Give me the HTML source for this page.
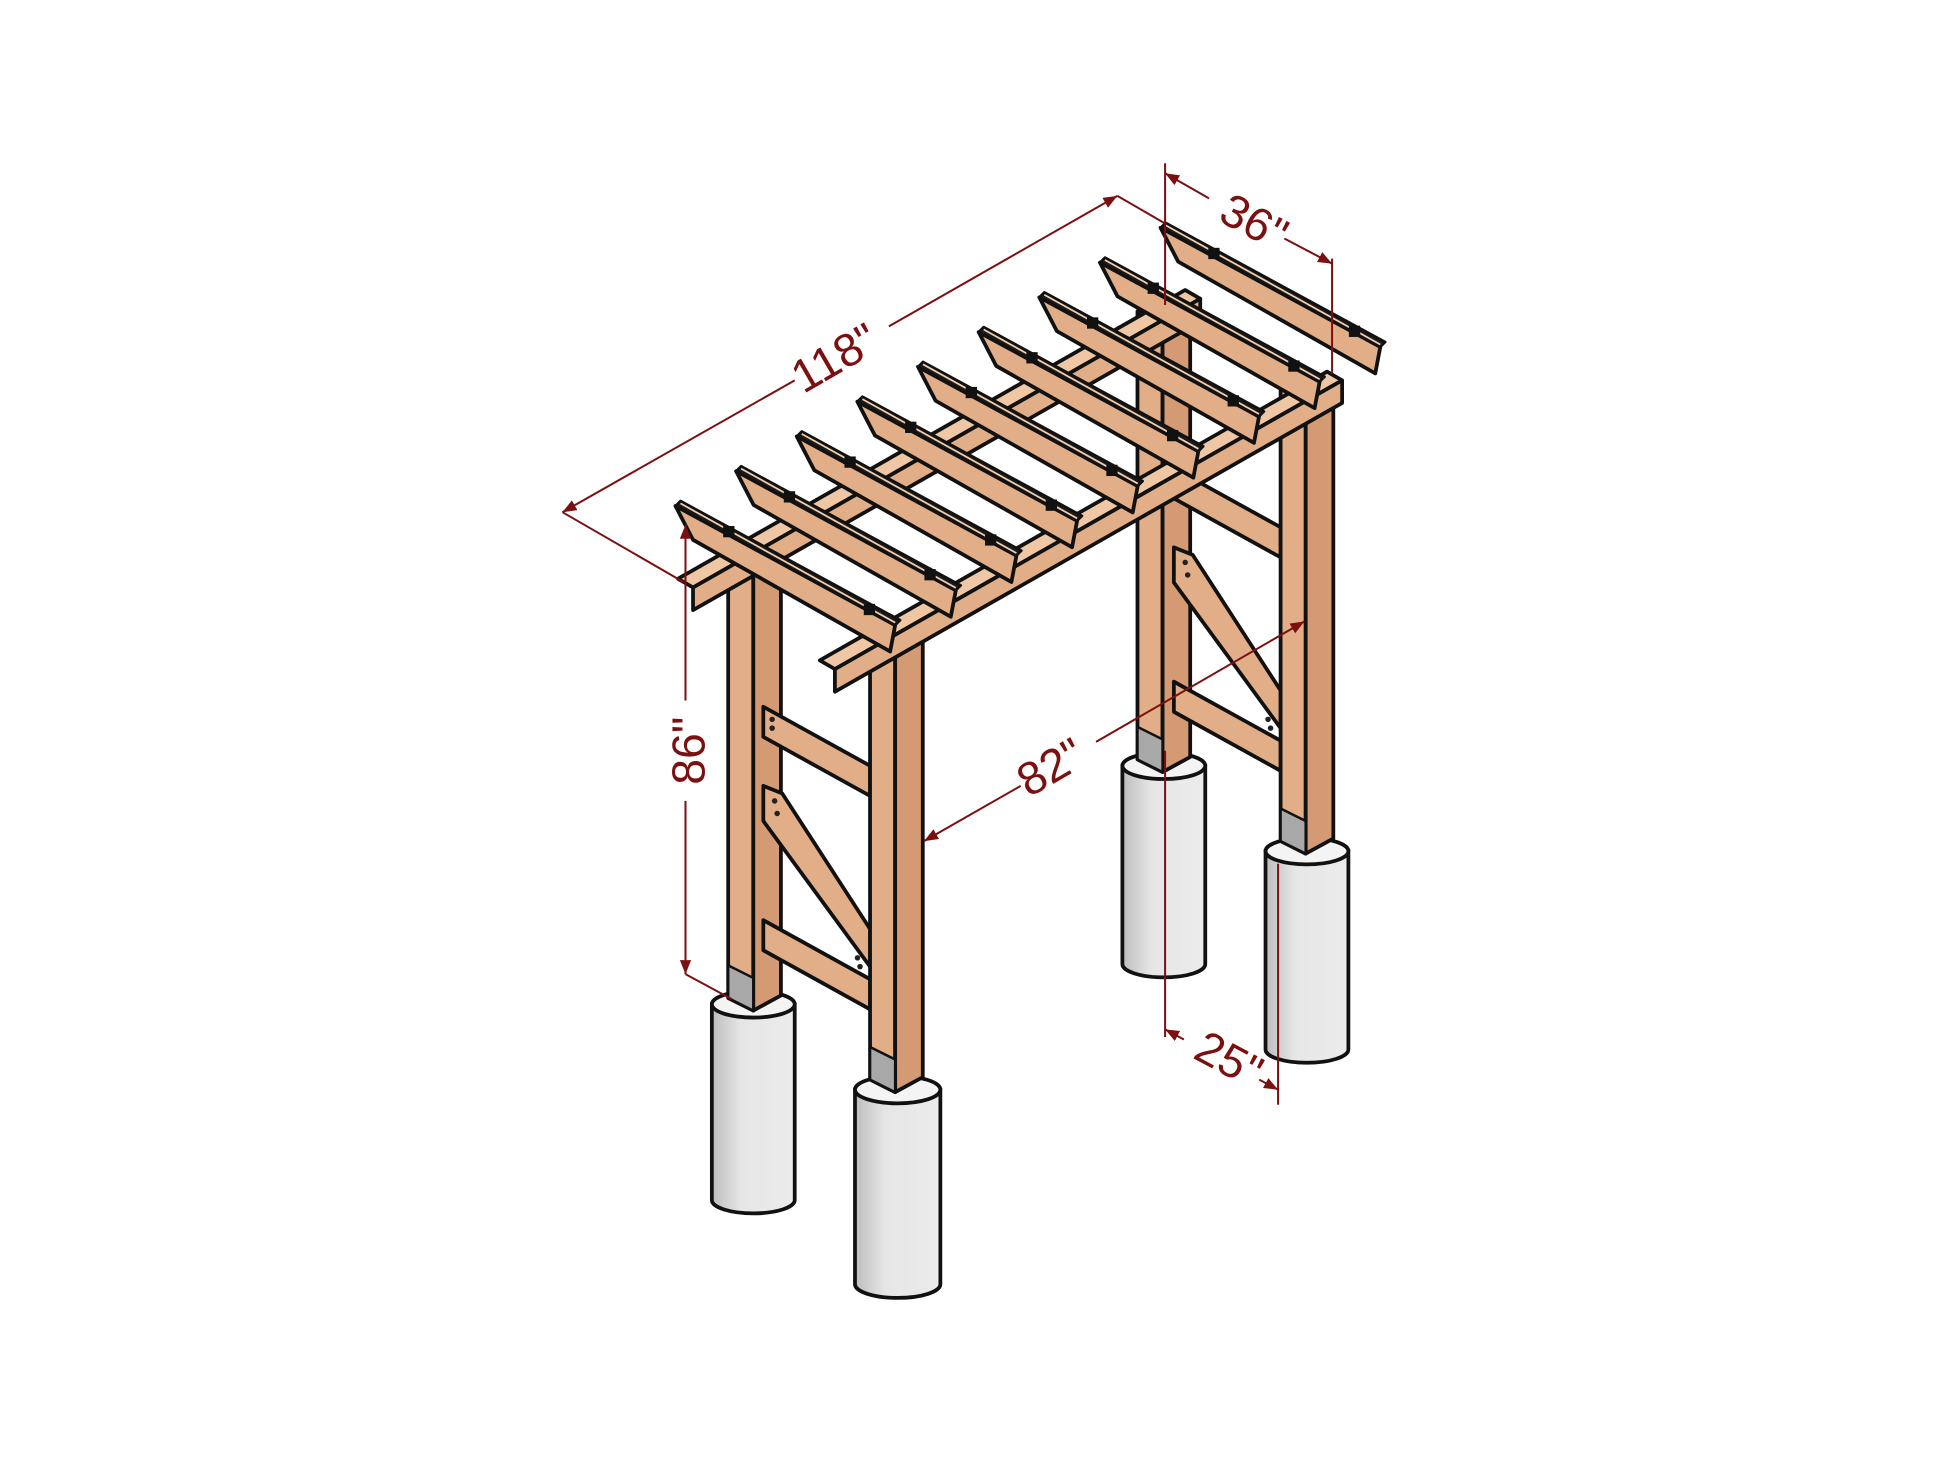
<!DOCTYPE html>
<html><head><meta charset="utf-8"><style>
html,body{margin:0;padding:0;background:#fff}
svg{display:block}
text{font-family:"Liberation Sans",sans-serif;fill:#7a1010}
</style></head><body>
<svg id="s" width="1946" height="1460" viewBox="0 0 1550 1163" preserveAspectRatio="none" xmlns="http://www.w3.org/2000/svg">
<defs>
<linearGradient id="conc" x1="0" x2="1"><stop offset="0" stop-color="#bdbdbd"/><stop offset="0.35" stop-color="#e6e6e6"/><stop offset="1" stop-color="#ececec"/></linearGradient>
<marker id="ar" viewBox="0 0 10 10" refX="10" refY="5" markerWidth="7" markerHeight="7" orient="auto-start-reverse"><path d="M0,1 L10,5 L0,9 z" fill="#7a1010"/></marker>
</defs>
<g transform="translate(-7,-2)">
<g id="g"></g>
<g stroke="#7a1010" stroke-width="1.6" fill="none">
 <line x1="455" y1="410" x2="640" y2="305" marker-start="url(#ar)"/>
 <line x1="715" y1="262" x2="897" y2="158" marker-end="url(#ar)"/>
 <line x1="455" y1="410" x2="552" y2="466"/>
 <line x1="897" y1="158" x2="935" y2="180"/>
 <line x1="935" y1="140" x2="970" y2="160" marker-start="url(#ar)"/>
 <line x1="1030" y1="192" x2="1068" y2="212" marker-end="url(#ar)"/>
 <line x1="935" y1="132" x2="935" y2="245"/>
 <line x1="1068" y1="208" x2="1068" y2="300"/>
 <line x1="553" y1="420" x2="553" y2="560" marker-start="url(#ar)"/>
 <line x1="553" y1="640" x2="553" y2="778" marker-end="url(#ar)"/>
 <line x1="553" y1="778" x2="590" y2="798"/>
 <line x1="743" y1="672" x2="820" y2="628" marker-start="url(#ar)"/>
 <line x1="880" y1="593" x2="1046" y2="497" marker-end="url(#ar)"/>
 <line x1="935" y1="822" x2="950" y2="830" marker-start="url(#ar)"/>
 <line x1="1010" y1="862" x2="1025" y2="870" marker-end="url(#ar)"/>
 <line x1="935" y1="600" x2="935" y2="828"/>
 <line x1="1025" y1="690" x2="1025" y2="882"/>
</g>
<g font-size="37">
 <text x="678" y="298" text-anchor="middle" transform="rotate(-30 678 298)">118"</text>
 <text x="1000" y="190" text-anchor="middle" transform="rotate(28 1000 190)">36"</text>
 <text x="568" y="600" text-anchor="middle" transform="rotate(-90 568 600)">86"</text>
 <text x="850" y="624" text-anchor="middle" transform="rotate(-30 850 624)">82"</text>
 <text x="980" y="857" text-anchor="middle" transform="rotate(28 980 857)">25"</text>
</g>
</g>
</svg>
<script>
var g=document.getElementById('g'),NS='http://www.w3.org/2000/svg';
function el(t,a){var e=document.createElementNS(NS,t);for(var k in a)e.setAttribute(k,a[k]);g.appendChild(e);return e;}
function poly(p,fill,sw){el('polygon',{points:p.map(function(q){return q[0]+','+q[1]}).join(' '),fill:fill,stroke:'#111','stroke-width':sw||3,'stroke-linejoin':'round'});}
function add(a,b){return[a[0]+b[0],a[1]+b[1]];}
var W1='#e2ae88',W2='#d39a74',W3='#f0c7a4';
function footing(cx,ty,by,r){var ry=r*0.32;
 el('path',{d:'M'+(cx-r)+','+ty+' L'+(cx-r)+','+by+' A'+r+','+ry+' 0 0 0 '+(cx+r)+','+by+' L'+(cx+r)+','+ty+' Z',fill:'url(#conc)',stroke:'#111','stroke-width':3});
 el('ellipse',{cx:cx,cy:ty,rx:r,ry:ry,fill:'#f4f4f4',stroke:'#111','stroke-width':3});}
function post(x,yt,yb){
 poly([[x,yt],[x+20,yt+10],[x+20,yb+10],[x,yb]],W1);
 poly([[x+20,yt+10],[x+42,yt-2],[x+42,yb-2],[x+20,yb+10]],W2);
 poly([[x,yb-26],[x+20,yb-16],[x+20,yb+10],[x,yb]],'#a8a8a8',2);}
function frame(dx,dy){
 function T(p){return p.map(function(q){return[q[0]+dx,q[1]+dy]});}
 poly(T([[615,565],[700,612],[700,636],[615,589]]),W1);
 poly(T([[615,628],[630,634],[700,742],[700,772],[615,656]]),W1);
 poly(T([[615,735],[700,782],[700,806],[615,759]]),W1);
 [[622,575],[622,582],[624,640],[626,650],[690,765],[692,772]].forEach(function(q){el('circle',{cx:q[0]+dx,cy:q[1]+dy,r:2.2,fill:'#222'});});}
function beam(p0,p1){
 poly([p0,p1,add(p1,[-12,-7]),add(p0,[-12,-7])],W3);
 poly([p0,p1,add(p1,[0,18]),add(p0,[0,18])],W1);}
footing(934,612,770,33); footing(607,802,958,33);
post(913,250,607); post(587,440,797);
beam([559,470],[963,240]);
frame(0,0); frame(327,-190);
footing(1048,680,838,33); footing(722,870,1025,34);
post(1027,310,672); post(700,505,862);
beam([672,535],[1076,305]);
for(var i=0;i<9;i++){var S=[545+48.3*i,405-27.7*i],u=[175,95];
 poly([S,add(S,u),add(S,[u[0]-4,u[1]+21]),add(S,[14,27])],W1);
 poly([S,add(S,u),add(S,[u[0]+4,u[1]-4]),add(S,[4,-4])],'#1a1a1a',2);
 el('line',{x1:S[0]+4,y1:S[1]-2,x2:S[0]+u[0],y2:S[1]+u[1]-2,stroke:'#f3cfae','stroke-width':1.4});
 el('rect',{x:S[0]+38,y:S[1]+16,width:9,height:9,fill:'#111'});
 el('rect',{x:S[0]+150,y:S[1]+78,width:9,height:9,fill:'#111'});}
</script>
</body></html>
